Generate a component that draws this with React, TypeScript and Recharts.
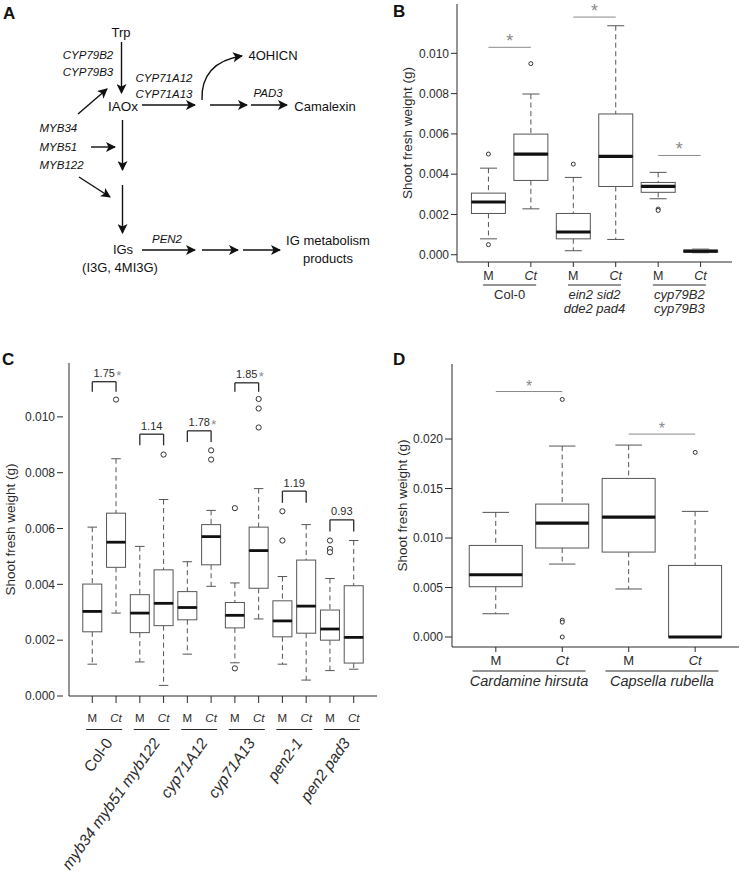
import React from 'react';
import { ComposedChart, Bar, Line, XAxis, YAxis, ReferenceLine } from 'recharts';

const INK = '#2b2b2b';
const BOX = '#555555';
const SIG = '#8a8a8a';
const FONT = '"Liberation Sans", Arial, Helvetica, sans-serif';

const conditions = ['M', 'Ct'];

// B: Arabidopsis lines, mock (M) vs C. tofieldiae (Ct)
const bGroups = ['Col-0', 'ein2 sid2\ndde2 pad4', 'cyp79B2\ncyp79B3'];
const bMin = [0.00079, 0.00228, 0.0002, 0.00076, 0.00278, 0.0001];
const bQ1 = [0.00205, 0.00369, 0.00079, 0.00339, 0.0031, 0.00013];
const bMed = [0.00262, 0.005, 0.00113, 0.00488, 0.00339, 0.00018];
const bQ3 = [0.00306, 0.00599, 0.00205, 0.00699, 0.00359, 0.00022];
const bMax = [0.0043, 0.00798, 0.00384, 0.01137, 0.00409, 0.00028];
const bOut = [[0.005, 0.0005], [0.00949], [0.0045], [], [0.00227, 0.0022], []];
const bSigLevel = [0.0103, 0.0118, 0.00493];
const bTicks = [0, 0.002, 0.004, 0.006, 0.008, 0.01];

// C: pathway mutants
const cGroups = ['Col-0', 'myb34 myb51 myb122', 'cyp71A12', 'cyp71A13', 'pen2-1', 'pen2 pad3'];
const cMin = [0.00114, 0.00297, 0.00122, 0.00038, 0.0015, 0.00393, 0.00119, 0.00276, 0.00114, 0.00057, 0.00091, 0.00096];
const cQ1 = [0.0023, 0.00461, 0.00227, 0.00252, 0.00273, 0.0047, 0.00244, 0.00386, 0.00212, 0.00225, 0.002, 0.00118];
const cMed = [0.00303, 0.00551, 0.00297, 0.00332, 0.00317, 0.00571, 0.00289, 0.00521, 0.00269, 0.00322, 0.0024, 0.0021];
const cQ3 = [0.00401, 0.00655, 0.00363, 0.00452, 0.00374, 0.00614, 0.00335, 0.00605, 0.00341, 0.00487, 0.00308, 0.00395];
const cMax = [0.00605, 0.0085, 0.00536, 0.00704, 0.00481, 0.00665, 0.00405, 0.00743, 0.00428, 0.00614, 0.00421, 0.00557];
const cOut = [[], [0.01062], [], [0.00865], [], [0.0088, 0.00847], [0.00673, 0.00099], [0.01064, 0.0103, 0.00962], [0.00662, 0.00557], [], [0.00557, 0.00527, 0.00515], []];
const cRatio = ['1.75', '1.14', '1.78', '1.85', '1.19', '0.93'];
const cSig = [true, false, true, true, false, false];
const cBracketTop = [0.01126, 0.00938, 0.0095, 0.01122, 0.00734, 0.00631];
const cBracketFoot = [0.0109, 0.00898, 0.0091, 0.0109, 0.00692, 0.00589];

// D: other Brassicaceae
const dGroups = ['Cardamine hirsuta', 'Capsella rubella'];
const dMin = [0.00235, 0.00737, 0.00485, 0];
const dQ1 = [0.00508, 0.00899, 0.00858, 0];
const dMed = [0.00629, 0.01151, 0.01212, 0];
const dQ3 = [0.00925, 0.01343, 0.01602, 0.00723];
const dMax = [0.01259, 0.01929, 0.01939, 0.01269];
const dOut = [[], [0.024, 0.0017, 0.0015, 0], [], [0.01865]];
const dSigLevel = [0.0248, 0.0205];
const dTicks = [0, 0.005, 0.01, 0.015, 0.02];

function buildRows(groups: string[], min: number[], q1: number[], med: number[], q3: number[], max: number[], out: number[][]) {
  return min.map((_, i) => {
    const group = groups[Math.floor(i / 2)];
    const row: any = {
      id: `${group}|${conditions[i % 2]}`,
      group,
      base: min[i],
      lw: q1[i] - min[i],
      lo: med[i] - q1[i],
      hi: q3[i] - med[i],
      uw: max[i] - q3[i],
    };
    for (let k = 0; k < 4; k++) row[`o${k}`] = out[i][k] ?? null;
    return row;
  });
}

const bRows = buildRows(bGroups, bMin, bQ1, bMed, bQ3, bMax, bOut);
const cRows = buildRows(cGroups, cMin, cQ1, cMed, cQ3, cMax, cOut);
const dRows = buildRows(dGroups, dMin, dQ1, dMed, dQ3, dMax, dOut);

const span = (p: any) => [Math.min(p.y, p.y + p.height), Math.max(p.y, p.y + p.height)];

const blank = () => <g />;

const whisker = (capAt: 'top' | 'bottom') => (p: any) => {
  const [top, bot] = span(p);
  const cx = p.x + p.width / 2;
  const cy = capAt === 'top' ? top : bot;
  return (
    <g>
      <line x1={cx} x2={cx} y1={top} y2={bot} stroke={BOX} strokeDasharray="5 3.5" />
      <line x1={cx - p.width / 4} x2={cx + p.width / 4} y1={cy} y2={cy} stroke={BOX} />
    </g>
  );
};

const lowerBox = (p: any) => {
  const [top, bot] = span(p);
  return <rect x={p.x} y={top} width={p.width} height={bot - top} fill="#fff" stroke={BOX} />;
};

const upperBox = (medW: number) => (p: any) => {
  const [top, bot] = span(p);
  return (
    <g>
      <rect x={p.x} y={top} width={p.width} height={bot - top} fill="#fff" stroke={BOX} />
      <line x1={p.x} x2={p.x + p.width} y1={bot} y2={bot} stroke="#111" strokeWidth={medW} />
    </g>
  );
};

const CondTick = (props: any) => {
  const { x, y, payload, baseDy, fs } = props;
  const label = String(payload.value).split('|')[1];
  return (
    <text x={x} y={y + baseDy} textAnchor="middle" fontSize={fs} fill={INK} fontStyle={label === 'Ct' ? 'italic' : 'normal'}>
      {label}
    </text>
  );
};

const GroupTick = (props: any) => {
  const { x, y, payload, half, ulDy, txtDy, fs, rot, lineH } = props;
  const name = String(payload.value);
  const italic = name !== 'Col-0' ? 'italic' : 'normal';
  const lines = name.split('\n');
  const ax = x + (rot ? rot.dx : 0);
  const ay = y + txtDy;
  return (
    <g>
      <line x1={x - half} x2={x + half} y1={y + ulDy} y2={y + ulDy} stroke={INK} strokeWidth={1.2} />
      {rot ? (
        <text x={ax} y={ay} transform={`rotate(${rot.angle} ${ax} ${ay})`} textAnchor="end" fontSize={fs} fill={INK} fontStyle={italic}>
          {name}
        </text>
      ) : (
        <text x={x} y={ay} textAnchor="middle" fontSize={fs} fill={INK} fontStyle={italic}>
          {lines.map((l, i) => (
            <tspan key={i} x={x} dy={i === 0 ? 0 : lineH}>{l}</tspan>
          ))}
        </text>
      )}
    </g>
  );
};

const ValueTick = (props: any) => {
  const { x, y, payload, gap, len } = props;
  return (
    <g>
      <line x1={x - gap - len} x2={x - gap} y1={y} y2={y} stroke={INK} />
      <text x={x - gap - len - 2} y={y} dy="0.35em" textAnchor="end" fontSize={12} fill={INK}>
        {Number(payload.value).toFixed(3)}
      </text>
    </g>
  );
};

const starLabel = (fs: number, lift: number) => (lp: any) => {
  const vb = lp.viewBox || {};
  return (
    <text x={vb.x + vb.width / 2} y={vb.y - lift} textAnchor="middle" fontSize={fs} fill={SIG}>*</text>
  );
};

const ratioLabel = (text: string, sig: boolean) => (lp: any) => {
  const vb = lp.viewBox || {};
  const cx = vb.x + vb.width / 2;
  const by = vb.y - 4.5;
  return (
    <g>
      <text x={cx} y={by} textAnchor="middle" fontSize={11} fill={INK}>{text}</text>
      {sig && <text x={cx + 12} y={by + 3} fontSize={13} fill={SIG}>*</text>}
    </g>
  );
};

type PanelProps = {
  rows: any[];
  left: number;
  top: number;
  width: number;
  height: number;
  margin: { top: number; right: number; bottom: number; left: number };
  yWidth: number;
  labelOffset: number;
  pad: number;
  domain: [number, number];
  ticks: number[];
  tickGap: number;
  tickLen: number;
  xTickLen: number;
  condH: number;
  condDy: number;
  condFs: number;
  groupH: number;
  groupTick: any;
  medW: number;
  dotR: number;
  extras: React.ReactNode[];
};

function BoxPanel(p: PanelProps) {
  return (
    <div style={{ position: 'absolute', left: p.left, top: p.top }}>
      <ComposedChart width={p.width} height={p.height} data={p.rows} margin={p.margin} barCategoryGap="10%">
        <XAxis
          dataKey="id"
          padding={{ left: p.pad, right: p.pad }}
          height={p.condH}
          tickSize={p.xTickLen}
          tickMargin={0}
          interval={0}
          axisLine={{ stroke: INK }}
          tickLine={{ stroke: INK }}
          tick={<CondTick baseDy={p.condDy} fs={p.condFs} />}
        />
        <XAxis
          xAxisId="grp"
          dataKey="group"
          allowDuplicatedCategory={false}
          padding={{ left: p.pad, right: p.pad }}
          height={p.groupH}
          tickSize={0}
          tickMargin={0}
          interval={0}
          axisLine={false}
          tickLine={false}
          tick={p.groupTick}
        />
        <XAxis xAxisId="top" orientation="top" type="number" domain={[0, 1]} height={0} tick={false} tickLine={false} axisLine={{ stroke: INK }} />
        <YAxis
          domain={p.domain}
          ticks={p.ticks}
          allowDataOverflow
          width={p.yWidth}
          tickSize={0}
          tickMargin={0}
          tickLine={false}
          axisLine={{ stroke: INK }}
          tick={<ValueTick gap={p.tickGap} len={p.tickLen} />}
          label={{
            value: 'Shoot fresh weight (g)',
            angle: -90,
            position: 'insideLeft',
            offset: p.labelOffset,
            style: { textAnchor: 'middle', fontSize: 13.5, fill: INK },
          }}
        />
        <YAxis yAxisId="right" orientation="right" type="number" domain={[0, 1]} width={0} tick={false} tickLine={false} axisLine={{ stroke: INK }} />
        <Bar dataKey="base" stackId="box" isAnimationActive={false} shape={blank} />
        <Bar dataKey="lw" stackId="box" isAnimationActive={false} shape={whisker('bottom')} />
        <Bar dataKey="lo" stackId="box" isAnimationActive={false} shape={lowerBox} />
        <Bar dataKey="hi" stackId="box" isAnimationActive={false} shape={upperBox(p.medW)} />
        <Bar dataKey="uw" stackId="box" isAnimationActive={false} shape={whisker('top')} />
        {[0, 1, 2, 3].map((k) => (
          <Line
            key={k}
            dataKey={`o${k}`}
            stroke="none"
            isAnimationActive={false}
            activeDot={false}
            legendType="none"
            dot={{ r: p.dotR, fill: '#fff', stroke: '#333', strokeWidth: 1 }}
          />
        ))}
        {p.extras}
      </ComposedChart>
    </div>
  );
}

const sigLines = (rows: any[], levels: number[], fs: number) =>
  levels.map((lv, i) => (
    <ReferenceLine
      key={`sig${i}`}
      segment={[{ x: rows[2 * i].id, y: lv }, { x: rows[2 * i + 1].id, y: lv }]}
      stroke={SIG}
      label={{ position: 'top', content: starLabel(fs, 0) }}
    />
  ));

const cBrackets = cRatio.flatMap((r, i) => {
  const a = cRows[2 * i].id;
  const b = cRows[2 * i + 1].id;
  return [
    <ReferenceLine key={`bt${i}`} segment={[{ x: a, y: cBracketTop[i] }, { x: b, y: cBracketTop[i] }]} stroke={INK} strokeWidth={1.3} label={{ position: 'top', content: ratioLabel(r, cSig[i]) }} />,
    <ReferenceLine key={`ba${i}`} segment={[{ x: a, y: cBracketTop[i] }, { x: a, y: cBracketFoot[i] }]} stroke={INK} strokeWidth={1.3} />,
    <ReferenceLine key={`bb${i}`} segment={[{ x: b, y: cBracketTop[i] }, { x: b, y: cBracketFoot[i] }]} stroke={INK} strokeWidth={1.3} />,
  ];
});

function Pathway() {
  const arrows: [number, number, number, number][] = [
    [121.5, 42, 121.5, 93],
    [142, 105, 195, 105],
    [210, 105, 247, 105],
    [251, 105, 287, 105],
    [78, 114, 107, 89],
    [91, 147, 115, 147],
    [122.5, 120, 122.5, 170],
    [79, 177, 110, 197],
    [122.5, 185, 122.5, 233],
    [142, 250, 195, 250],
    [202, 250, 238, 250],
    [243, 250, 280, 250],
  ];
  const t = { fontSize: 13, fill: '#111' };
  const g = { fontSize: 11.5, fill: '#111', fontStyle: 'italic' as const };
  return (
    <g>
      <defs>
        <marker id="ah" viewBox="0 0 10 10" refX="9" refY="5" markerWidth="10" markerHeight="10" markerUnits="userSpaceOnUse" orient="auto">
          <path d="M0,0 L10,5 L0,10 L2.5,5 z" fill="#111" />
        </marker>
      </defs>
      {arrows.map(([x1, y1, x2, y2], i) => (
        <line key={i} x1={x1} y1={y1} x2={x2} y2={y2} stroke="#111" strokeWidth={1.4} markerEnd="url(#ah)" />
      ))}
      <path d="M202,100 C201,76 214,60 242,56" fill="none" stroke="#111" strokeWidth={1.4} markerEnd="url(#ah)" />
      <text x={121} y={37} textAnchor="middle" {...t}>Trp</text>
      <text x={88} y={59} textAnchor="middle" {...g}>CYP79B2</text>
      <text x={88} y={76} textAnchor="middle" {...g}>CYP79B3</text>
      <text x={123} y={111} textAnchor="middle" {...t} fontSize={13.5}>IAOx</text>
      <text x={164} y={82} textAnchor="middle" {...g}>CYP71A12</text>
      <text x={164} y={98} textAnchor="middle" {...g}>CYP71A13</text>
      <text x={273} y={60} textAnchor="middle" {...t}>4OHICN</text>
      <text x={268} y={97} textAnchor="middle" {...g}>PAD3</text>
      <text x={325} y={111} textAnchor="middle" {...t}>Camalexin</text>
      <text x={39.5} y={132} {...g}>MYB34</text>
      <text x={39.5} y={151} {...g}>MYB51</text>
      <text x={39.5} y={169} {...g}>MYB122</text>
      <text x={123} y={254} textAnchor="middle" {...t}>IGs</text>
      <text x={120} y={272} textAnchor="middle" {...t}>(I3G, 4MI3G)</text>
      <text x={167} y={243} textAnchor="middle" {...g}>PEN2</text>
      <text x={328} y={245} textAnchor="middle" {...t}>IG metabolism</text>
      <text x={328} y={263} textAnchor="middle" {...t}>products</text>
    </g>
  );
}

export default function App() {
  const letter = { fontSize: 17, fontWeight: 700, fill: '#111' };
  return (
    <div style={{ position: 'absolute', left: 0, top: 0, width: 740, height: 877, background: '#fff', fontFamily: FONT, overflow: 'hidden' }}>
      <svg width={740} height={877} style={{ position: 'absolute', left: 0, top: 0 }}>
        <text x={3} y={19} {...letter}>A</text>
        <text x={393} y={17} {...letter}>B</text>
        <text x={2} y={365} {...letter}>C</text>
        <text x={393} y={365} {...letter}>D</text>
        <Pathway />
      </svg>
      <BoxPanel
        rows={bRows}
        left={370}
        top={0}
        width={370}
        height={322}
        margin={{ top: 4, right: 8, bottom: 0, left: 0 }}
        yWidth={87}
        labelOffset={37}
        pad={10.2}
        domain={[-0.00036, 0.01245]}
        ticks={bTicks}
        tickGap={0}
        tickLen={6}
        xTickLen={5}
        condH={20}
        condDy={13}
        condFs={12.5}
        groupH={40}
        groupTick={<GroupTick half={26.5} ulDy={3} txtDy={17} fs={13} lineH={14} />}
        medW={3.2}
        dotR={2}
        extras={sigLines(bRows, bSigLevel, 18)}
      />
      <BoxPanel
        rows={cRows}
        left={0}
        top={340}
        width={380}
        height={537}
        margin={{ top: 23, right: 3, bottom: 0, left: 0 }}
        yWidth={69}
        labelOffset={10}
        pad={11.4}
        domain={[0, 0.01193]}
        ticks={bTicks}
        tickGap={6}
        tickLen={6}
        xTickLen={7}
        condH={28}
        condDy={18.5}
        condFs={11.5}
        groupH={153}
        groupTick={<GroupTick half={18} ulDy={5.5} txtDy={19} fs={15.5} rot={{ angle: -54.5, dx: 9 }} />}
        medW={2.8}
        dotR={2.6}
        extras={cBrackets}
      />
      <BoxPanel
        rows={dRows}
        left={385}
        top={340}
        width={355}
        height={360}
        margin={{ top: 24, right: 1, bottom: 0, left: 0 }}
        yWidth={67}
        labelOffset={17}
        pad={10.6}
        domain={[-0.00101, 0.02758]}
        ticks={dTicks}
        tickGap={0}
        tickLen={7}
        xTickLen={5}
        condH={16}
        condDy={13}
        condFs={13}
        groupH={37}
        groupTick={<GroupTick half={56.5} ulDy={8} txtDy={23} fs={14.5} />}
        medW={3.2}
        dotR={2}
        extras={sigLines(dRows, dSigLevel, 16)}
      />
    </div>
  );
}
